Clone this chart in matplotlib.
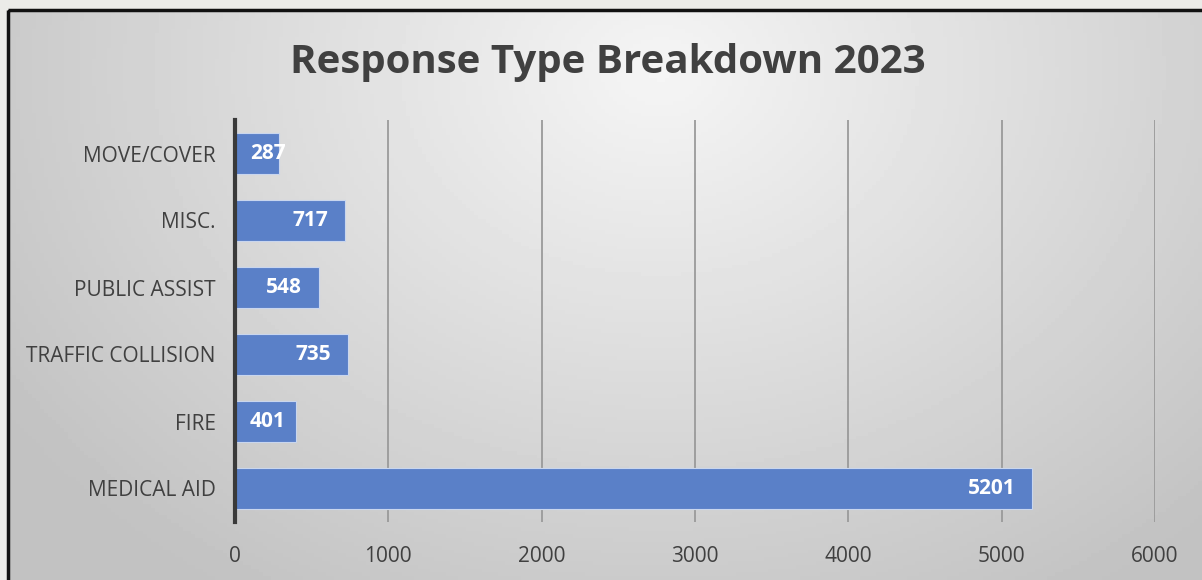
import matplotlib
matplotlib.use("Agg")
import matplotlib.pyplot as plt
import numpy as np
from matplotlib.patches import Rectangle

# data
categories = ["MEDICAL AID", "FIRE", "TRAFFIC COLLISION", "PUBLIC ASSIST", "MISC.", "MOVE/COVER"]
values = [5201, 401, 735, 548, 717, 287]
xticks = [0, 1000, 2000, 3000, 4000, 5000, 6000]

W, H = 1202, 580
fig = plt.figure(figsize=(W / 100, H / 100), dpi=100)
fig.patch.set_facecolor("#ebebe8")

# chart frame with radial gradient background
bg = fig.add_axes([0, 0, 1, 1], zorder=0)
bg.set_xlim(0, W)
bg.set_ylim(H, 0)
bg.set_axis_off()
x0, y0 = 8, 10
gx, gy = np.meshgrid(np.linspace(x0, W, 300), np.linspace(y0, H, 150))
d = np.sqrt(((gx - 660) / 950) ** 2 + ((gy - 70) / 750) ** 2)
shade = np.clip(0.96 - 0.24 * d, 0.76, 0.96)
bg.imshow(shade, cmap="gray", vmin=0, vmax=1, extent=[x0, W, H, y0], aspect="auto", zorder=1)
bg.add_patch(Rectangle((x0, y0), W, H, fill=False, edgecolor="#111111", lw=2.5, zorder=2))

plt.rcParams["font.family"] = ["Open Sans", "DejaVu Sans"]

ax = fig.add_axes([235 / W, 1 - 522 / H, (1155 - 235) / W, (522 - 120) / H], zorder=2)
ax.patch.set_alpha(0)
y = np.arange(len(categories))
bars = ax.barh(y, values, height=0.6, color="#5a80c8", edgecolor="#c9d6ee", linewidth=0.8, zorder=2)
# labels at inside end, but never left of a small inset from the axis
for b, v in zip(bars, values):
    yc = b.get_y() + b.get_height() / 2
    if v - 110 - 235 < 98:
        ax.text(98, yc, str(v), ha="left", va="center",
                color="white", fontsize=15, fontweight="bold", zorder=3)
    else:
        ax.text(v - 110, yc, str(v), ha="right", va="center",
                color="white", fontsize=15, fontweight="bold", zorder=3)

ax.set_xlim(0, 6000)
ax.set_ylim(-0.5, len(categories) - 0.5)
ax.set_xticks(xticks)
ax.set_yticks(y)
ax.set_yticklabels(categories)
ax.grid(axis="x", color="#9a9a9a", lw=1.3, zorder=1)
ax.tick_params(axis="both", length=0, labelsize=15, colors="#404040")
ax.tick_params(axis="x", pad=17)
ax.tick_params(axis="y", pad=14)
for s in ["top", "right", "bottom"]:
    ax.spines[s].set_visible(False)
ax.spines["left"].set_color("#3a3a3a")
ax.spines["left"].set_linewidth(3)
ax.spines["left"].set_zorder(4)

fig.text(608 / W, 1 - 62 / H, "Response Type Breakdown 2023", ha="center", va="center",
         fontsize=29, fontweight="bold", color="#404040")

fig.savefig("out.png", dpi=100)
